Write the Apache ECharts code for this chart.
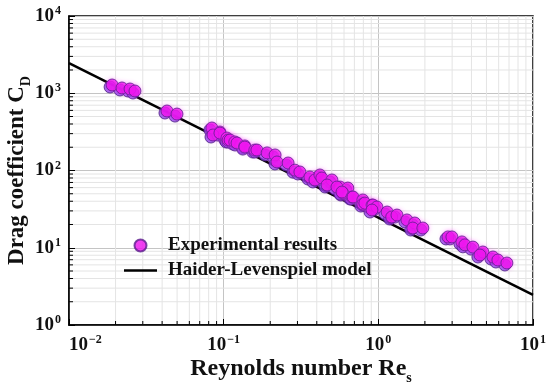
<!DOCTYPE html>
<html><head><meta charset="utf-8">
<script src="https://cdn.jsdelivr.net/npm/echarts@6/dist/echarts.min.js"></script>
<style>html,body{margin:0;padding:0;background:#fff}#c{width:550px;height:390px}</style>
</head><body><div id="c"></div>
<script>
// Experimental results: Reynolds number Re_s and drag coefficient C_D
const expRe = [0.019, 0.022, 0.0248, 0.0267, 0.043, 0.0499,
  0.0839, 0.0946, 0.0853, 0.0946, 0.105, 0.107, 0.110, 0.118, 0.122, 0.137, 0.137, 0.159, 0.164, 0.191,
  0.215, 0.221, 0.261, 0.289, 0.311, 0.361, 0.389, 0.419, 0.431, 0.501, 0.466, 0.565, 0.635, 0.540,
  0.590, 0.582, 0.675, 0.686, 0.794, 0.794, 0.818, 0.910, 0.923, 0.979, 0.910,
  1.14, 1.22, 1.32, 1.53, 1.72, 1.67, 1.94,
  2.82, 2.99, 3.47, 3.63, 4.09, 4.74, 4.54, 5.51, 5.93, 6.78];
const expCd = [1279, 1170, 1135, 1069, 589, 538,
  355, 315, 288, 305, 263, 248, 248, 234, 227, 208, 201, 184, 184, 169,
  159, 129, 125, 101, 95.7, 82.4, 75.4, 87.5, 80.0, 75.4, 64.9, 61.1, 59.3, 61.1,
  51.1, 52.7, 45.4, 45.4, 41.5, 36.8, 37.9, 35.7, 35.7, 33.7, 30.8,
  29.0, 25.0, 26.5, 22.9, 20.9, 18.0, 18.0,
  13.8, 13.8, 11.9, 10.9, 10.2, 8.81, 8.05, 7.59, 6.94, 6.35];
// Haider-Levenspiel model line (end points)
const modelRe = [0.01, 10];
const modelCd = [2450, 2.45];
// axes
const xMin = 0.01, xMax = 10;
const yMin = 1, yMax = 10000;
const xDecades = [-2, -1, 0];
const yDecades = [0, 1, 2, 3];
const minorMultipliers = [2, 3, 4, 5, 6, 7, 8, 9];

const FONT = '"Liberation Serif","Times New Roman",serif';
const expData = expRe.map((r, i) => [r, expCd[i]]);
const modelData = modelRe.map((r, i) => [r, modelCd[i]]);
const xMinor = [], yMinor = [];
xDecades.forEach(d => minorMultipliers.forEach(k => xMinor.push([k * Math.pow(10, d), 10])));
yDecades.forEach(d => minorMultipliers.forEach(k => yMinor.push([0.1, k * Math.pow(10, d)])));

function expLabel(v) {
  const e = Math.round(Math.log10(v));
  return '{b|10}{s|' + (e < 0 ? '\u2212' + (-e) : e) + '}';
}
const labelRich = {
  b: {fontFamily: FONT, fontWeight: 'bold', fontSize: 19, color: '#111'},
  s: {fontFamily: FONT, fontWeight: 'bold', fontSize: 12, color: '#111', verticalAlign: 'bottom', padding: [0, 0, 10, 1]}
};

function renderXMinor(params, api) {
  const p = api.coord([api.value(0), 10]);
  const cs = params.coordSys;
  return {type: 'group', silent: true, children: [
    {type: 'line', shape: {x1: p[0], y1: cs.y, x2: p[0], y2: cs.y + cs.height}, style: {stroke: '#e4e4e4', lineWidth: 1}},
    {type: 'line', shape: {x1: p[0], y1: cs.y + cs.height, x2: p[0], y2: cs.y + cs.height - 4}, style: {stroke: '#000', lineWidth: 1}}
  ]};
}
function renderYMinor(params, api) {
  const p = api.coord([0.1, api.value(1)]);
  const cs = params.coordSys;
  return {type: 'group', silent: true, children: [
    {type: 'line', shape: {x1: cs.x, y1: p[1], x2: cs.x + cs.width, y2: p[1]}, style: {stroke: '#e4e4e4', lineWidth: 1}},
    {type: 'line', shape: {x1: cs.x, y1: p[1], x2: cs.x + 4, y2: p[1]}, style: {stroke: '#000', lineWidth: 1}}
  ]};
}

const chart = echarts.init(document.getElementById('c'), null, {renderer: 'canvas'});
chart.setOption({
  animation: false,
  backgroundColor: '#fff',
  grid: {left: 69, right: 17, top: 16, bottom: 65, containLabel: false, outerBoundsMode: 'none',
    show: true, borderColor: '#000', borderWidth: 1.5, backgroundColor: 'transparent'},
  xAxis: {
    type: 'log', logBase: 10, min: xMin, max: xMax,
    name: '{t|Reynolds number Re}{u|s}', nameLocation: 'middle', nameGap: 32, nameMoveOverlap: false,
    nameTextStyle: {rich: {
      t: {fontFamily: FONT, fontWeight: 'bold', fontSize: 24, color: '#111'},
      u: {fontFamily: FONT, fontWeight: 'bold', fontSize: 14, color: '#111', verticalAlign: 'bottom', padding: [0, 0, -4, 0]}
    }},
    axisLine: {show: true, lineStyle: {color: '#000', width: 1.5}},
    axisTick: {show: true, inside: true, length: 6, lineStyle: {color: '#000'}},
    axisLabel: {margin: 9, formatter: expLabel, rich: labelRich, alignMinLabel: 'left'},
    splitLine: {show: true, lineStyle: {color: '#c4c4c4', width: 1}}
  },
  yAxis: {
    type: 'log', logBase: 10, min: yMin, max: yMax,
    name: '{t|Drag coefficient C}{u|D}', nameLocation: 'middle', nameGap: 40, nameRotate: 90, nameMoveOverlap: false,
    nameTextStyle: {rich: {
      t: {fontFamily: FONT, fontWeight: 'bold', fontSize: 23, color: '#111'},
      u: {fontFamily: FONT, fontWeight: 'bold', fontSize: 14, color: '#111', verticalAlign: 'bottom', padding: [0, 0, -4, 0]}
    }},
    axisLine: {show: true, lineStyle: {color: '#000', width: 1.5}},
    axisTick: {show: true, inside: true, length: 6, lineStyle: {color: '#000'}},
    axisLabel: {margin: 8, formatter: expLabel, rich: labelRich},
    splitLine: {show: true, lineStyle: {color: '#c4c4c4', width: 1}}
  },
  legend: {
    data: [
      {name: 'Experimental results'},
      {name: 'Haider-Levenspiel model', icon: 'path://M0,0 H100 V8 H0 Z'}
    ],
    orient: 'vertical', left: 119, top: 231,
    itemWidth: 33, itemHeight: 12, itemGap: 6,
    textStyle: {fontFamily: FONT, fontWeight: 'bold', fontSize: 19, color: '#111', padding: [0, 0, 0, 6]}
  },
  series: [
    {type: 'custom', name: 'xminor', data: xMinor, renderItem: renderXMinor, z: 0, silent: true, clip: true},
    {type: 'custom', name: 'yminor', data: yMinor, renderItem: renderYMinor, z: 0, silent: true, clip: true},
    {type: 'line', name: 'Haider-Levenspiel model', data: modelData, symbol: 'none', showSymbol: false,
      lineStyle: {color: '#000', width: 2.5}, itemStyle: {color: '#000'}, z: 3, clip: true},
    {type: 'scatter', name: 'shade', data: expData, symbolSize: 12, symbolOffset: [-2, 2],
      itemStyle: {color: '#8b3fe6', borderColor: '#3c1f78', borderWidth: 1}, z: 4},
    {type: 'scatter', name: 'Experimental results', data: expData, symbolSize: 12,
      itemStyle: {color: '#ee10ee', borderColor: '#5a1d8c', borderWidth: 1, shadowBlur: 4, shadowColor: 'rgba(255,80,255,0.45)'}, z: 5}
  ]
});
</script></body></html>
